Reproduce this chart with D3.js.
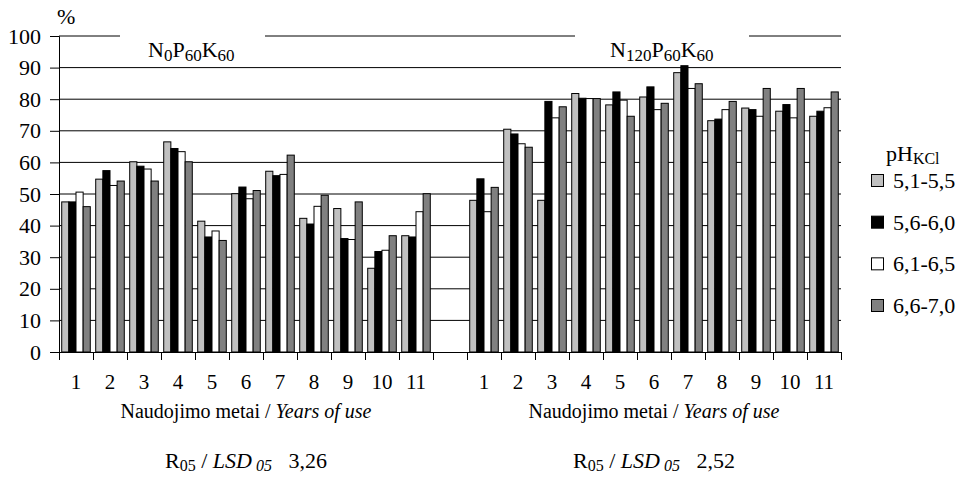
<!DOCTYPE html>
<html>
<head>
<meta charset="utf-8">
<script src="https://cdn.jsdelivr.net/npm/d3@7"></script>
<style>
  html, body { margin: 0; padding: 0; background: #fff; }
  svg { display: block; }
</style>
</head>
<body>
<svg id="chart" width="961" height="485"></svg>
<script>
// ---- data ----
const years = ["1","2","3","4","5","6","7","8","9","10","11"];
const seriesNames = ["5,1-5,5", "5,6-6,0", "6,1-6,5", "6,6-7,0"];
const seriesColors = ["#c0c0c0", "#000000", "#ffffff", "#808080"];
const yTicks = [0,10,20,30,40,50,60,70,80,90,100];

// N0P60K60 group (per year: one value per pH series)
const n0_s1 = [47.5, 54.7, 60.2, 66.5, 41.4, 50.1, 57.2, 42.3, 45.4, 26.5, 36.8];
const n0_s2 = [47.5, 57.4, 58.8, 64.4, 36.4, 52.2, 55.8, 40.5, 35.9, 31.8, 36.4];
const n0_s3 = [50.6, 52.7, 57.9, 63.4, 38.3, 48.5, 56.2, 46.1, 35.6, 32.2, 44.4];
const n0_s4 = [46.0, 54.1, 54.1, 60.2, 35.3, 51.1, 62.3, 49.6, 47.5, 36.8, 50.1];

// N120P60K60 group
const n120_s1 = [48.0, 70.5, 48.0, 81.8, 78.2, 80.7, 88.4, 73.2, 77.2, 76.2, 74.6];
const n120_s2 = [54.8, 69.0, 79.3, 80.3, 82.3, 83.9, 90.6, 73.7, 76.7, 78.3, 76.2];
const n120_s3 = [44.4, 65.9, 74.1, 80.2, 79.7, 76.7, 83.4, 76.7, 74.6, 74.1, 77.3];
const n120_s4 = [52.1, 64.8, 77.6, 80.2, 74.6, 78.7, 84.9, 79.3, 83.4, 83.4, 82.3];

const lsdValues = ["3,26", "2,52"];

(function () {
const FONT = "'Liberation Serif', 'Times New Roman', serif";
// ---- build table ----
const groups = [
  { key: "L", series: [n0_s1, n0_s2, n0_s3, n0_s4] },
  { key: "R", series: [n120_s1, n120_s2, n120_s3, n120_s4] }
];
const categories = [];
years.forEach((yv, i) => categories.push({ id: "L" + yv, label: yv, values: groups[0].series.map(s => s[i]) }));
categories.push({ id: "gap", label: "", values: [] });
years.forEach((yv, i) => categories.push({ id: "R" + yv, label: yv, values: groups[1].series.map(s => s[i]) }));

// ---- layout ----
const svg = d3.select("#chart");
const pLeft = 59, pRight = 841, pTop = 36, pBottom = 352;

const x0 = d3.scaleBand().domain(categories.map(c => c.id)).range([pLeft, pRight]).paddingInner(0).paddingOuter(0);
const x1 = d3.scaleBand().domain(d3.range(4)).range([0, x0.bandwidth()]).paddingInner(0).paddingOuter(0.38);
const y = d3.scaleLinear().domain([0, 100]).range([pBottom, pTop]);

// gridlines
svg.append("g").selectAll("line").data(yTicks.filter(t => t > 0)).join("line")
  .attr("x1", pLeft).attr("x2", pRight)
  .attr("y1", d => y(d)).attr("y2", d => y(d))
  .attr("stroke", "#000").attr("stroke-width", 1);

// bars
const catG = svg.append("g").selectAll("g").data(categories).join("g")
  .attr("transform", d => `translate(${x0(d.id)},0)`);
catG.selectAll("rect").data(d => d.values.map((v, i) => ({ v, i }))).join("rect")
  .attr("x", d => x1(d.i))
  .attr("y", d => y(d.v))
  .attr("width", x1.bandwidth())
  .attr("height", d => y(0) - y(d.v))
  .attr("fill", d => seriesColors[d.i])
  .attr("stroke", "#000").attr("stroke-width", 1);

// y axis
const yAxis = svg.append("g").attr("transform", `translate(${pLeft},0)`)
  .call(d3.axisLeft(y).tickValues(yTicks).tickSize(9).tickPadding(9).tickFormat(d3.format("d")));
yAxis.attr("font-family", null).attr("font-size", null);
yAxis.select(".domain").attr("stroke", "#000");
yAxis.selectAll(".tick line").attr("stroke", "#000");
yAxis.selectAll("text").style("font-size", "22px").attr("fill", "#000");

// x axis (category boundaries)
const xb = d3.scaleLinear().domain([0, categories.length]).range([pLeft, pRight]);
const xAxis = svg.append("g").attr("transform", `translate(0,${pBottom})`)
  .call(d3.axisBottom(xb).tickValues(d3.range(categories.length + 1)).tickSize(8).tickFormat(""));
xAxis.attr("font-family", null);
xAxis.select(".domain").attr("stroke", "#000");
xAxis.selectAll(".tick line").attr("stroke", "#000");

// category labels
svg.append("g").selectAll("text").data(categories.filter(c => c.label)).join("text")
  .attr("x", d => x0(d.id) + x0.bandwidth() / 2)
  .attr("y", 389)
  .attr("text-anchor", "middle")
  .style("font-size", "21px")
  .text(d => d.label);

// % label
svg.append("text").attr("x", 57).attr("y", 24).style("font-size", "22px").text("%");

// group titles with white boxes
function subText(sel, parts, size, subSize) {
  parts.forEach(p => {
    const t = sel.append("tspan").text(p.t);
    if (p.sub) t.style("font-size", subSize + "px").attr("dy", 4);
    else t.style("font-size", size + "px").attr("dy", p.after ? -4 : 0);
  });
}
const titleBoxes = [
  { x1: 120, x2: 265, tx: 148, parts: [{t:"N"},{t:"0",sub:true},{t:"P",after:true},{t:"60",sub:true},{t:"K",after:true},{t:"60",sub:true}] },
  { x1: 575, x2: 749, tx: 610, parts: [{t:"N"},{t:"120",sub:true},{t:"P",after:true},{t:"60",sub:true},{t:"K",after:true},{t:"60",sub:true}] }
];
titleBoxes.forEach(b => {
  svg.append("rect").attr("x", b.x1).attr("y", 30).attr("width", b.x2 - b.x1).attr("height", 30).attr("fill", "#fff");
  const t = svg.append("text").attr("x", b.tx).attr("y", 57);
  subText(t, b.parts, 22, 17);
});

// axis titles
const centers = [x0("L6") + x0.bandwidth() / 2, x0("R6") + x0.bandwidth() / 2];
centers.forEach((cx, gi) => {
  const t = svg.append("text").attr("x", cx).attr("y", 418).attr("text-anchor", "middle").style("font-size", "20px");
  t.append("tspan").text("Naudojimo metai / ");
  t.append("tspan").style("font-style", "italic").text("Years of use");

  const r = svg.append("text").attr("x", cx).attr("y", 468).attr("text-anchor", "middle").style("font-size", "22px");
  r.append("tspan").text("R");
  r.append("tspan").style("font-size", "16px").attr("dy", 3).text("05");
  r.append("tspan").attr("dy", -3).text(" / ");
  r.append("tspan").style("font-style", "italic").text("LSD");
  r.append("tspan").style("font-style", "italic").style("font-size", "16px").attr("dy", 3).text("\u00a005");
  r.append("tspan").attr("dy", -3).text("\u00a0\u00a0\u00a0" + lsdValues[gi]);
});

// legend
const lg = svg.append("g");
const lt = lg.append("text").attr("x", 886).attr("y", 161).style("font-size", "22px");
lt.append("tspan").text("pH");
lt.append("tspan").style("font-size", "16px").attr("dy", 3).text("KCl");
const legendY = d3.scalePoint().domain(seriesNames).range([181, 306]);
seriesNames.forEach((n, i) => {
  const cy = legendY(n);
  lg.append("rect").attr("x", 871.5).attr("y", cy - 6.5).attr("width", 12).attr("height", 12)
    .attr("fill", seriesColors[i]).attr("stroke", "#000").attr("stroke-width", 1);
  lg.append("text").attr("x", 893).attr("y", cy + 7).style("font-size", "22px").text(n);
});

svg.selectAll("text").style("font-family", FONT).attr("fill", "#000");
})();
</script>
</body>
</html>
